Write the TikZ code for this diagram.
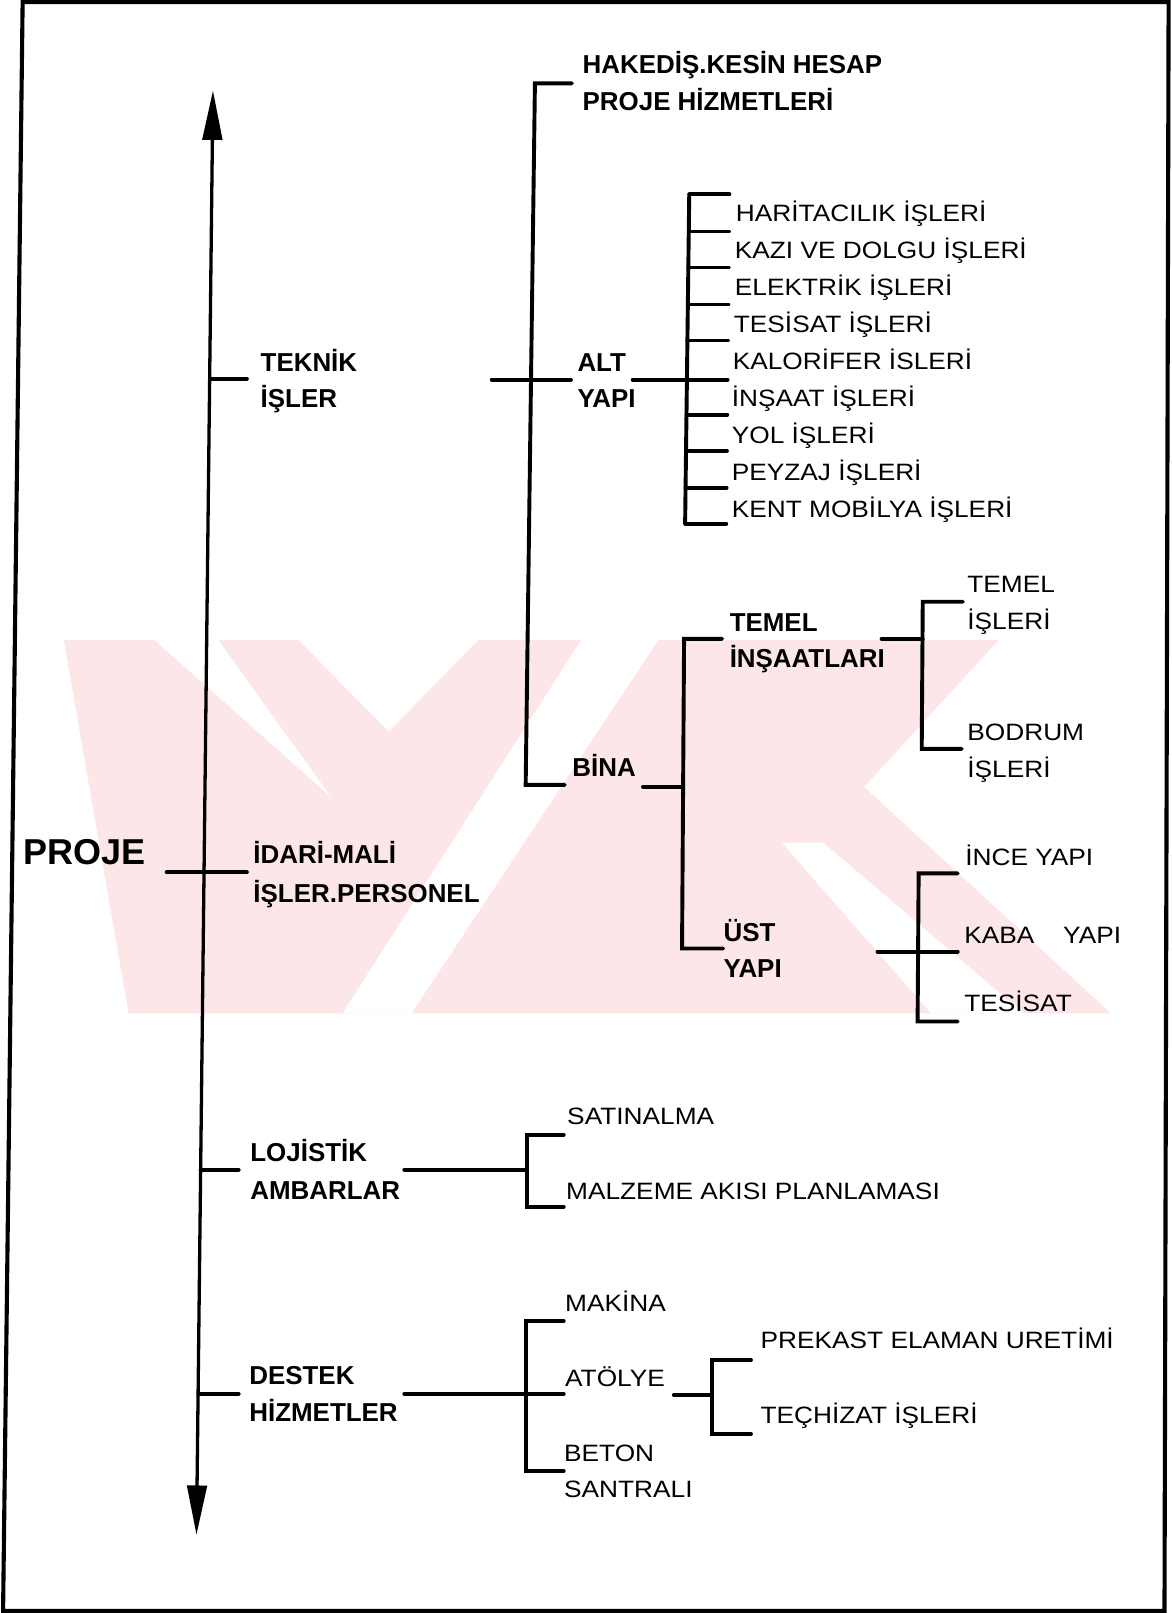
\documentclass[tikz,border=0pt]{standalone}
\usepackage{fontspec}
\setmainfont{Liberation Sans}
\newfontfamily\leaffont{Liberation Sans}[FakeStretch=1.11]
\usetikzlibrary{arrows.meta}
\definecolor{wm}{RGB}{252,230,232}
\begin{document}
\begin{tikzpicture}[x=0.5pt,y=-0.5pt,
  tree/.style={line width=1.9pt, line cap=round, line join=miter},
  lbl/.style={anchor=base west, inner sep=0pt, font=\fontsize{12.6}{15}\selectfont\bfseries},
  leaf/.style={anchor=base west, inner sep=0pt, font=\leaffont\fontsize{11.5}{14}\selectfont},
  big/.style={anchor=base west, inner sep=0pt, font=\fontsize{17.5}{20}\selectfont\bfseries},
  frameline/.style={line width=2pt, line join=miter},
  axisline/.style={line width=1.6pt, {Triangle[length=24pt,width=9.5pt]}-{Triangle[length=24pt,width=9.5pt]}},
  wmark/.style={fill=wm, draw=none},
  wgap/.style={fill=white, draw=none}]
\useasboundingbox (0,0) rectangle (1139,1568);
% watermark (faint logo behind the chart)
\fill[wmark] (62,622) -- (971,622) -- (840,765) -- (1080,985) -- (125,985) -- cycle;
\fill[wgap] (150,622) -- (212,622) -- (322,775) -- cycle;
\fill[wgap] (290,622) -- (465,622) -- (378,711) -- cycle;
\fill[wgap] (565,622) -- (640,622) -- (400,985) -- (333,985) -- cycle;
\fill[wgap] (760,819) -- (800,819) -- (995,985) -- (905,985) -- cycle;
% frame
\draw[frameline] (22,2) -- (1136,2) -- (1132,1566) -- (3,1566) -- cycle;
% main axis
\coordinate (axtop) at (207,88);
\coordinate (axbot) at (191,1492);
\draw[axisline] (axbot) -- (axtop);
% level 1 labels
\node[big] (proje) at (22,840) {PROJE};
\node[lbl] (teknik1) at (253,361) {TEKNİK};
\node[lbl] (teknik2) at (253,396) {İŞLER};
\node[lbl] (idari1) at (246,839) {İDARİ-MALİ};
\node[lbl] (idari2) at (246,877) {İŞLER.PERSONEL};
\node[lbl] (loj1) at (243,1129) {LOJİSTİK};
\node[lbl] (loj2) at (243,1166) {AMBARLAR};
\node[lbl] (des1) at (242,1346) {DESTEK};
\node[lbl] (des2) at (242,1382) {HİZMETLER};
% level 1 ticks
\coordinate (axT) at (204,368);   \coordinate (tkE) at (240,368);
\coordinate (prE) at (162,848);   \coordinate (idE) at (240,848);
\coordinate (axL) at (195,1137);  \coordinate (ljE) at (232,1137);
\coordinate (axD) at (193,1355);  \coordinate (dsE) at (232,1355);
\draw[tree] (axT) -- (tkE);
\draw[tree] (prE) -- (idE);
\draw[tree] (axL) -- (ljE);
\draw[tree] (axD) -- (dsE);
% teknik subtree
\node[lbl] (hak1) at (566,71) {HAKEDİŞ.KESİN HESAP};
\node[lbl] (hak2) at (566,107) {PROJE HİZMETLERİ};
\node[lbl] (alt1) at (561,361) {ALT};
\node[lbl] (alt2) at (561,396) {YAPI};
\node[lbl] (bina) at (556,755) {BİNA};
\coordinate (tkIn) at (478,369);
\coordinate (tkTop) at (520,81);
\coordinate (tkBot) at (511,763);
\coordinate (hakT) at (556,81);
\coordinate (altT) at (555,369);
\coordinate (binaT) at (549,763);
\draw[tree] (hakT) -- (tkTop) -- (tkBot) -- (binaT);
\draw[tree] (tkIn) -- (altT);
% alt yapi subtree
\coordinate (altOut) at (615,369);
\foreach \i/\y in {1/189,2/225,3/260,4/296,5/331,6/369,7/403,8/438,9/474,10/509}{
  \coordinate (altV\i) at ({670-4*(\y-189)/320},\y);
  \coordinate (altL\i) at ({709-3*(\y-189)/320},\y);
  \draw[tree] (altV\i) -- (altL\i);
}
\draw[tree] (altV1) -- (altV10);
\draw[tree] (altOut) -- (altV6);
\node[leaf] (l1) at (715,215.5) {HARİTACILIK İŞLERİ};
\node[leaf] (l2) at (714,251.5) {KAZI VE DOLGU İŞLERİ};
\node[leaf] (l3) at (714,287.5) {ELEKTRİK İŞLERİ};
\node[leaf] (l4) at (713,323.5) {TESİSAT İŞLERİ};
\node[leaf] (l5) at (712,359.5) {KALORİFER İSLERİ};
\node[leaf] (l6) at (711,395.5) {İNŞAAT İŞLERİ};
\node[leaf] (l7) at (711,431.5) {YOL İŞLERİ};
\node[leaf] (l8) at (711,467.5) {PEYZAJ İŞLERİ};
\node[leaf] (l9) at (711,503.5) {KENT MOBİLYA İŞLERİ};
% bina subtree
\node[lbl] (tem1) at (709,614) {TEMEL};
\node[lbl] (tem2) at (709,649) {İNŞAATLARI};
\node[lbl] (ust1) at (703,915) {ÜST};
\node[lbl] (ust2) at (703,950) {YAPI};
\coordinate (binaOut) at (625,765);
\coordinate (bnTop) at (665,621);
\coordinate (bnMid) at (664,765);
\coordinate (bnBot) at (663,922);
\coordinate (temT) at (702,621);
\coordinate (ustT) at (703,922);
\draw[tree] (temT) -- (bnTop) -- (bnBot) -- (ustT);
\draw[tree] (binaOut) -- (bnMid);
% temel subtree
\node[leaf] (ti1) at (940,576) {TEMEL};
\node[leaf] (ti2) at (940,612) {İŞLERİ};
\node[leaf] (bd1) at (940,720) {BODRUM};
\node[leaf] (bd2) at (940,756) {İŞLERİ};
\coordinate (temOut) at (857,621);
\coordinate (tmTop) at (897,585);
\coordinate (tmMid) at (897,621);
\coordinate (tmBot) at (896,728);
\coordinate (tiT) at (936,585);
\coordinate (bdT) at (935,728);
\draw[tree] (tiT) -- (tmTop) -- (tmBot) -- (bdT);
\draw[tree] (temOut) -- (tmMid);
% ust subtree
\node[leaf] (ince) at (938,841) {İNCE YAPI};
\node[leaf] (kaba) at (937,917) {KABA\hspace{14pt}YAPI};
\node[leaf] (tes) at (937,983) {TESİSAT};
\coordinate (ustOut) at (853,925);
\coordinate (usTop) at (893,849);
\coordinate (usMid) at (893,925);
\coordinate (usBot) at (892,993);
\coordinate (inceT) at (931,849);
\coordinate (kabaT) at (931,925);
\coordinate (tesT) at (931,993);
\draw[tree] (inceT) -- (usTop) -- (usBot) -- (tesT);
\draw[tree] (ustOut) -- (kabaT);
% lojistik subtree
\node[leaf] (sat) at (551,1093) {SATINALMA};
\node[leaf] (malz) at (550,1166) {MALZEME AKISI PLANLAMASI};
\coordinate (ljOut) at (393,1137);
\coordinate (ljTop) at (512,1103);
\coordinate (ljMid) at (512,1137);
\coordinate (ljBot) at (512,1173);
\coordinate (satT) at (548,1103);
\coordinate (malzT) at (548,1173);
\draw[tree] (satT) -- (ljTop) -- (ljBot) -- (malzT);
\draw[tree] (ljOut) -- (ljMid);
% destek subtree
\node[leaf] (mak) at (549,1275) {MAKİNA};
\node[leaf] (atol) at (549,1348) {ATÖLYE};
\node[leaf] (bet1) at (548,1421) {BETON};
\node[leaf] (bet2) at (548,1456) {SANTRALI};
\coordinate (dsOut) at (393,1355);
\coordinate (dsTop) at (511,1284);
\coordinate (dsBot) at (511,1430);
\coordinate (makT) at (548,1284);
\coordinate (atolT) at (548,1355);
\coordinate (betT) at (548,1430);
\draw[tree] (makT) -- (dsTop) -- (dsBot) -- (betT);
\draw[tree] (dsOut) -- (atolT);
% atolye subtree
\node[leaf] (prek) at (739,1311) {PREKAST ELAMAN URETİMİ};
\node[leaf] (tec) at (739,1384) {TEÇHİZAT İŞLERİ};
\coordinate (atOut) at (655,1356);
\coordinate (atTop) at (692,1322);
\coordinate (atMid) at (692,1356);
\coordinate (atBot) at (692,1394);
\coordinate (prekT) at (730,1322);
\coordinate (tecT) at (730,1394);
\draw[tree] (prekT) -- (atTop) -- (atBot) -- (tecT);
\draw[tree] (atOut) -- (atMid);
\end{tikzpicture}
\end{document}
